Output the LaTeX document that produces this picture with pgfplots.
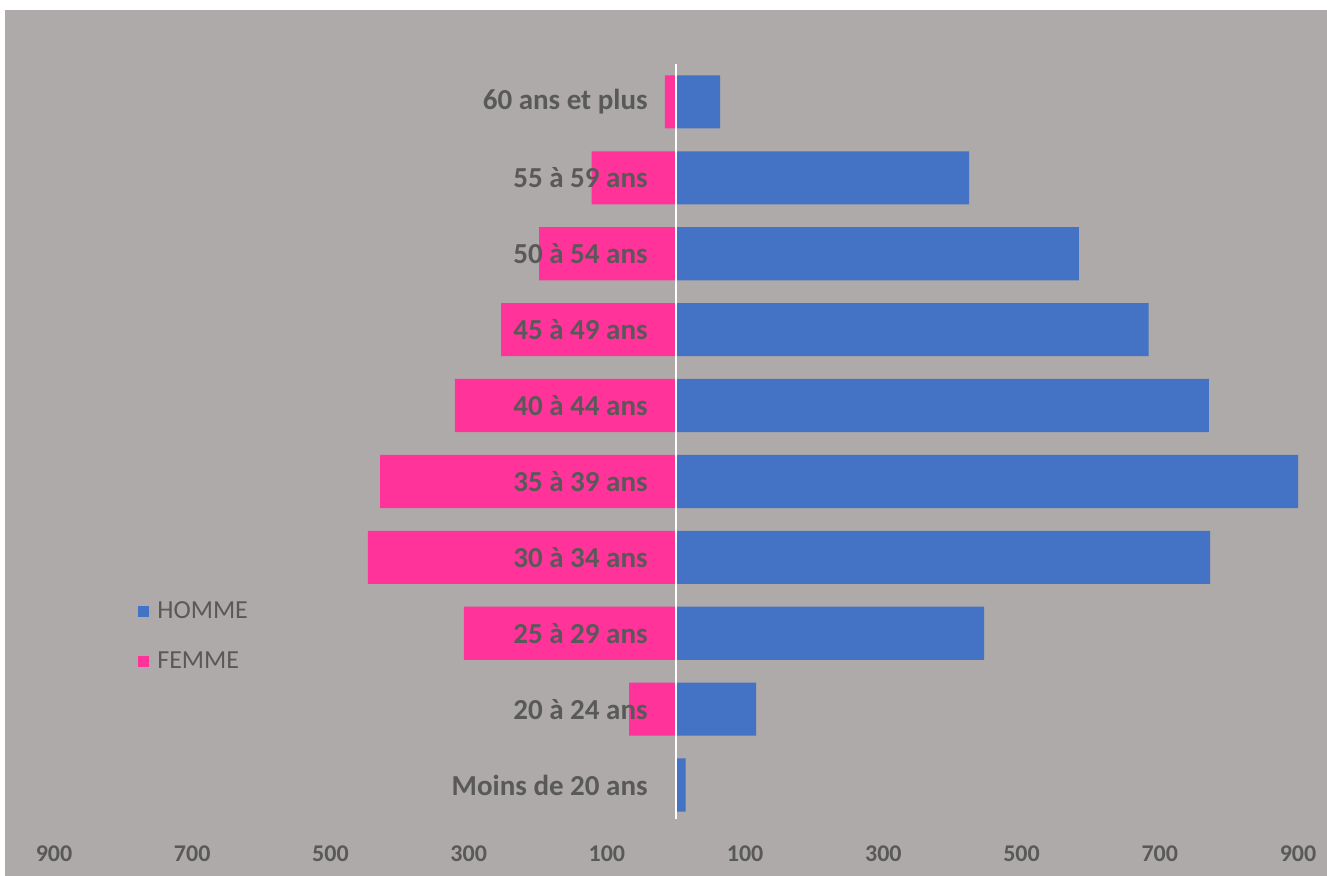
\documentclass[border=0pt]{standalone}
\usepackage{fontspec}
\setmainfont{Carlito}
\usepackage{pgfplots}
\pgfplotsset{compat=1.18}
\definecolor{bgc}{HTML}{AEAAAA}
\definecolor{homme}{HTML}{4472C4}
\definecolor{femme}{HTML}{FF3399}
\definecolor{txt}{HTML}{595959}

\begin{document}
\begin{tikzpicture}
% page and chart area
\fill[white] (-27pt,-26.5pt) rectangle (636.5pt,411.5pt);
\fill[bgc] (-24.5pt,-26.5pt) rectangle (636.5pt,406.5pt);
\begin{axis}[
    width=622pt, height=379.5pt, scale only axis,
    xmin=-900, xmax=900,
    ymin=-0.5, ymax=9.5,
    axis line style={draw=none},
    major tick length=0pt,
    tick style={draw=none},
    xtick={-900,-700,-500,-300,-100,100,300,500,700,900},
    xticklabels={900,700,500,300,100,100,300,500,700,900},
    xticklabel style={font=\fontsize{12}{13}\selectfont\bfseries, text=txt, yshift=-8pt},
    ytick={0,1,2,3,4,5,6,7,8,9},
    yticklabels={Moins de 20 ans, 20 à 24 ans, 25 à 29 ans, 30 à 34 ans, 35 à 39 ans,
                 40 à 44 ans, 45 à 49 ans, 50 à 54 ans, 55 à 59 ans, 60 ans et plus},
    yticklabel style={anchor=east, inner sep=0pt, xshift=297pt,
                      font=\fontsize{14.5}{16}\selectfont\bfseries, text=txt},
    /pgf/number format/assume math mode=true,
    axis on top,
    legend cell align=left,
    legend style={draw=none, fill=none, inner sep=0pt, anchor=west,
                  at={(0.0675,0.246)}, row sep=11pt,
                  font=\fontsize{13}{15}\selectfont, text=txt,
                  nodes={inner sep=2pt}},
    legend image code/.code={\fill (0pt,-2.75pt) rectangle (5.5pt,2.75pt);
                             \path (0pt,0pt) -- (7.5pt,0pt);},
]
\addplot[xbar, bar width=0.7, bar shift=0pt, fill=homme, draw=none]
    coordinates {(14,0) (116,1) (446,2) (773,3) (900,4) (771,5) (684,6) (583,7) (424,8) (64,9)};
\addlegendentry{HOMME}
\addplot[xbar, bar width=0.7, bar shift=0pt, fill=femme, draw=none]
    coordinates {(0,0) (-68,1) (-307,2) (-446,3) (-428,4) (-320,5) (-253,6) (-198,7) (-122,8) (-16,9)};
\addlegendentry{FEMME}
\draw[white, line width=1pt] (axis cs:0,-0.45) -- (axis cs:0,9.5);
\end{axis}
\end{tikzpicture}
\end{document}
